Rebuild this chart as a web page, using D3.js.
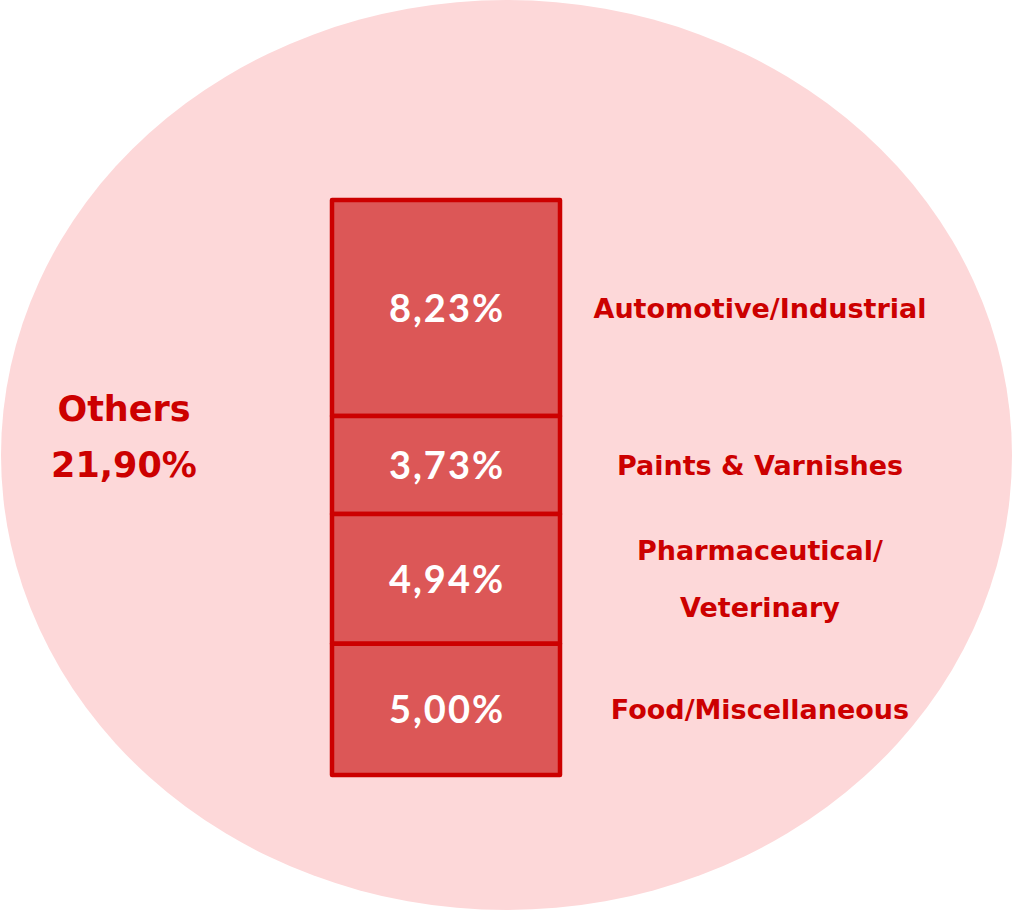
<!DOCTYPE html>
<html>
<head>
<meta charset="utf-8">
<script src="https://cdn.jsdelivr.net/npm/d3@7"></script>
<style>
  html, body { margin: 0; padding: 0; background: #ffffff; }
  svg { display: block; }
</style>
</head>
<body>
<svg id="chart" width="1013" height="912"></svg>
<script>
// ---- data ----
const categories = ["Automotive/Industrial", "Paints & Varnishes", "Pharmaceutical/\nVeterinary", "Food/Miscellaneous"];
const values = [8.23, 3.73, 4.94, 5.00];
const othersLabel = "Others";
const othersValue = 21.90;

// ---- setup ----
const W = 1013, H = 912;
const svg = d3.select("#chart");
const locale = d3.formatLocale({ decimal: ",", thousands: ".", grouping: [3] });
const fmt = v => locale.format(".2f")(v) + "%";

const labelFont = "'Comic Sans MS', 'DejaVu Sans', sans-serif";
const valueFont = "Lato, 'Open Sans', sans-serif";
const red = "#cc0000";

// background ellipse (the "Others" total)
svg.append("ellipse")
  .attr("cx", W / 2).attr("cy", H / 2 - 1)
  .attr("rx", W / 2 - 1).attr("ry", H / 2 - 1)
  .attr("fill", "#fdd8d9");

// stacked bar scale
const barTop = 200, barBottom = 775, barLeft = 332, barRight = 560;
const total = d3.sum(values);
const y = d3.scaleLinear().domain([0, total]).range([barTop, barBottom]);
const x = d3.scaleBand().domain(["bar"]).range([barLeft, barRight]).padding(0);

const stacked = [];
let acc = 0;
values.forEach((v, i) => { stacked.push({ cat: categories[i], v, y0: acc, y1: acc + v }); acc += v; });

const g = svg.append("g");
g.selectAll("rect.seg").data(stacked).join("rect")
  .attr("class", "seg")
  .attr("x", x("bar"))
  .attr("width", x.bandwidth())
  .attr("y", d => y(d.y0))
  .attr("height", d => y(d.y1) - y(d.y0))
  .attr("fill", "#dc5757")
  .attr("stroke", red)
  .attr("stroke-width", 4.5)
  .attr("stroke-linejoin", "round");

// value labels
g.selectAll("text.val").data(stacked).join("text")
  .attr("class", "val")
  .attr("x", x("bar") + x.bandwidth() / 2 + 1)
  .attr("y", d => (y(d.y0) + y(d.y1)) / 2)
  .attr("dy", "0.36em")
  .attr("text-anchor", "middle")
  .attr("fill", "#ffffff")
  .attr("font-family", valueFont)
  .attr("font-weight", "bold")
  .attr("font-size", 38)
  .attr("letter-spacing", 2)
  .text(d => fmt(d.v));

// category labels on the right
const catX = 760;
const catG = g.selectAll("text.cat").data(stacked).join("text")
  .attr("class", "cat")
  .attr("text-anchor", "middle")
  .attr("fill", red)
  .attr("font-family", labelFont)
  .attr("font-weight", "bold")
  .attr("font-size", 27);
catG.each(function(d) {
  const lines = d.cat.split("\n");
  const mid = (y(d.y0) + y(d.y1)) / 2;
  const lh = 57;
  const start = mid - (lines.length - 1) * lh / 2;
  d3.select(this).selectAll("tspan").data(lines).join("tspan")
    .attr("x", catX)
    .attr("y", (l, i) => start + i * lh)
    .attr("dy", "0.36em")
    .text(l => l);
});

// others label
const oth = svg.append("text")
  .attr("text-anchor", "middle")
  .attr("fill", red)
  .attr("font-family", labelFont)
  .attr("font-weight", "bold")
  .attr("font-size", 35);
oth.append("tspan").attr("x", 124).attr("y", 421).text(othersLabel);
oth.append("tspan").attr("x", 124).attr("y", 477).text(fmt(othersValue));
</script>
</body>
</html>
